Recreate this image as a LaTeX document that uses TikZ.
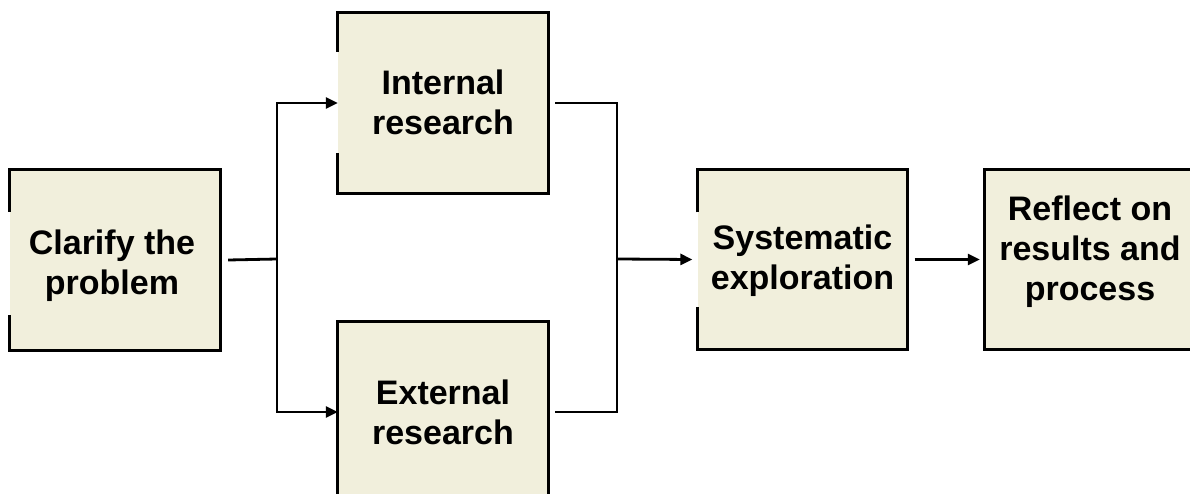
\documentclass[tikz,border=0pt]{standalone}
\usepackage{fontspec}
\setmainfont{Liberation Sans}
\usetikzlibrary{arrows.meta}
\definecolor{boxfill}{RGB}{241,239,220}
\tikzset{
  box/.style={rectangle, fill=boxfill, minimum width=210pt, minimum height=180pt, inner sep=0pt},
  boxtext/.style={inner sep=0pt, align=center, font=\fontsize{34}{40}\selectfont\bfseries},
  border/.style={draw=black, line width=3pt},
  conn/.style={draw=black, line width=2.8pt},
  arr/.style={conn, -{Triangle[length=12pt,width=11pt]}}
}
\begin{document}
\begin{tikzpicture}[x=1pt,y=-1pt]
  \useasboundingbox (0,0) rectangle (1190,494);
  \clip (0,0) rectangle (1190,494);

  % process boxes
  \node[box] (clarify)  at (115,260)     {};
  \node[box] (internal) at (443,103)     {};
  \node[box] (external) at (443,412)     {};
  \node[box] (syst)     at (802.5,259.5) {};
  \node[box] (reflect)  at (1090,259.5)  {};

  % box labels
  \node[boxtext] (clarifytext)  at ([xshift=-3pt,yshift=-6pt]clarify.center) {Clarify the\\problem};
  \node[boxtext] (internaltext) at ([yshift=1pt]internal.center) {Internal\\research};
  \node[boxtext] (externaltext) at (external.center) {External\\research};
  \node[boxtext] (systtext)     at ([yshift=-1pt]syst.center) {Systematic\\exploration};
  \node[boxtext] (reflecttext)  at ([yshift=8pt]reflect.center) {Reflect on\\results and\\process};

  % outlines (left edges of some boxes are interrupted)
  \draw[border] ([yshift=-42pt]clarify.north west) -- (clarify.north west) -- (clarify.north east)
    -- (clarify.south east) -- (clarify.south west) -- ([yshift=35pt]clarify.south west);
  \draw[border] ([yshift=-39pt]internal.north west) -- (internal.north west) -- (internal.north east)
    -- (internal.south east) -- (internal.south west) -- ([yshift=40pt]internal.south west);
  \draw[border] (external.north west) rectangle (external.south east);
  \draw[border] ([yshift=-43pt]syst.north west) -- (syst.north west) -- (syst.north east)
    -- (syst.south east) -- (syst.south west) -- ([yshift=43pt]syst.south west);
  \draw[border] (reflect.north west) rectangle (reflect.south east);

  % connectors
  \coordinate (split) at (277,259);
  \coordinate (join)  at (617,259);
  \draw[conn] ([xshift=8pt]clarify.east) -- (split);
  \draw[arr] (split) |- (internal.west);
  \draw[arr] (split) |- (external.west);
  \draw[conn] ([xshift=7pt]internal.east) -| (join);
  \draw[conn] ([xshift=7pt]external.east) -| (join);
  \draw[arr] (join) -- ([xshift=-5pt]syst.west);
  \draw[arr] ([xshift=7pt]syst.east) -- ([xshift=-5pt]reflect.west);
\end{tikzpicture}
\end{document}
